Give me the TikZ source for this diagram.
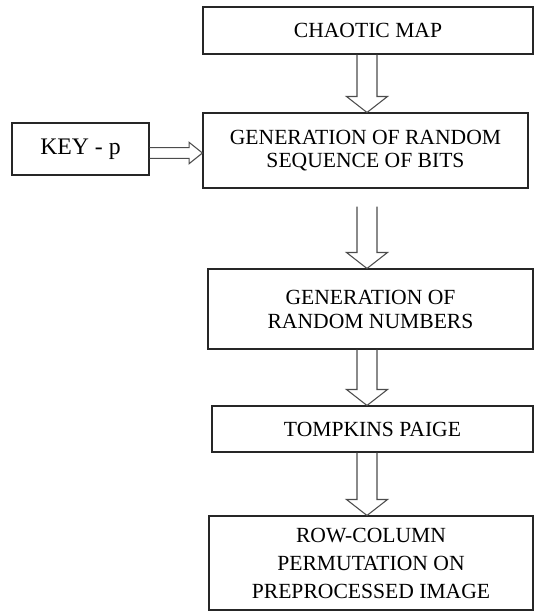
\documentclass[tikz,border=0pt]{standalone}
\usepackage{fontspec}
\setmainfont{Liberation Serif}
\usetikzlibrary{calc}

\newcommand{\vfat}[2]{%
  \draw[fatarrow] let \p1=(#1), \p2=(#2), \p3=(spine) in
    (\x3-7.5pt,\y1) -- (\x3-7.5pt,\y2+12pt) -- (\x3-15.4pt,\y2+12pt)
    -- (\x3,\y2) -- (\x3+15.4pt,\y2+12pt) -- (\x3+7.5pt,\y2+12pt)
    -- (\x3+7.5pt,\y1);}
\newcommand{\hfat}[2]{%
  \draw[fatarrow] let \p1=(#1), \p2=(#2) in
    (\x1,\y1+4pt) -- (\x2-10pt,\y1+4pt) -- (\x2-10pt,\y1+8pt)
    -- (\x2,\y1) -- (\x2-10pt,\y1-8pt) -- (\x2-10pt,\y1-4pt)
    -- (\x1,\y1-4pt);}

\begin{document}
\begin{tikzpicture}[x=0.75pt, y=-0.75pt,
  stage/.style={draw=black!85, line width=0.8pt, rectangle, align=center, inner sep=0pt,
    font=\fontsize{16.2}{17.25}\selectfont},
  fatarrow/.style={draw=black!70, line width=0.8pt, line join=miter}]
\useasboundingbox (0,0) rectangle (535,612);
\coordinate (spine) at (367,0);
\node[stage, minimum width=247.5pt, minimum height=35.25pt] (chaos) at (368,30.5) {CHAOTIC MAP};
\node[stage, minimum width=243.75pt, minimum height=56.25pt] (seq) at (365.5,150.5) {GENERATION OF RANDOM\\SEQUENCE OF BITS};
\node[stage, minimum width=102.75pt, minimum height=39pt, font=\fontsize{17.8}{19}\selectfont] (key) at (80.5,149) {KEY - p};
\node[stage, minimum width=243.75pt, minimum height=60pt, font=\fontsize{16.2}{18}\selectfont] (rnd) at (370.5,309) {GENERATION OF\\RANDOM NUMBERS};
\node[stage, minimum width=240.75pt, minimum height=34.5pt] (tp) at (372.5,429) {TOMPKINS PAIGE};
\node[stage, minimum width=243pt, minimum height=70.5pt, font=\fontsize{16.2}{21}\selectfont] (rc) at (371,563) {ROW-COLUMN\\PERMUTATION ON\\PREPROCESSED IMAGE};
\vfat{chaos.south}{seq.north}
\vfat{$(seq.south)+(0,18)$}{rnd.north}
\vfat{rnd.south}{tp.north}
\vfat{tp.south}{rc.north}
\hfat{$(key.east)+(0,4)$}{seq.west}
\end{tikzpicture}
\end{document}
